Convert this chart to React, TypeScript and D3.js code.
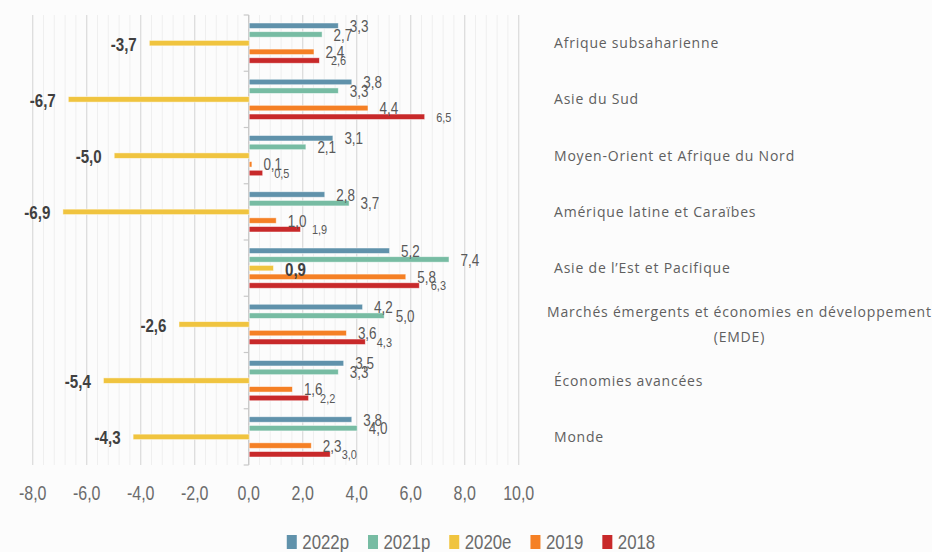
import { useEffect, useRef } from "react";
import * as d3 from "d3";

const categories = [
  "Afrique subsaharienne",
  "Asie du Sud",
  "Moyen-Orient et Afrique du Nord",
  "Amérique latine et Caraïbes",
  "Asie de l’Est et Pacifique",
  "Marchés émergents et économies en développement (EMDE)",
  "Économies avancées",
  "Monde",
];

const seriesNames = ["2022p", "2021p", "2020e", "2019", "2018"];

const values2022 = [3.3, 3.8, 3.1, 2.8, 5.2, 4.2, 3.5, 3.8];
const values2021 = [2.7, 3.3, 2.1, 3.7, 7.4, 5.0, 3.3, 4.0];
const values2020 = [-3.7, -6.7, -5.0, -6.9, 0.9, -2.6, -5.4, -4.3];
const values2019 = [2.4, 4.4, 0.1, 1.0, 5.8, 3.6, 1.6, 2.3];
const values2018 = [2.6, 6.5, 0.5, 1.9, 6.3, 4.3, 2.2, 3.0];

const xTicks = [-8, -6, -4, -2, 0, 2, 4, 6, 8, 10];

const colors = ["#6092ab", "#77bca3", "#f0c43f", "#f58025", "#c8292a"];

type Row = { cat: string; series: string; value: number };

// squeeze text horizontally (no condensed font installed)
const condense = (sel: d3.Selection<any, any, any, any>, f: number) => {
  sel.each(function (this: SVGTextElement) {
    const w = this.getComputedTextLength();
    d3.select(this).attr("textLength", w * f).attr("lengthAdjust", "spacingAndGlyphs");
  });
};

const App = () => {
  const chartRef = useRef<HTMLDivElement>(null);

  useEffect(() => {
    if (!chartRef.current) return;
    document.body.style.margin = "0";
    const width = 932;
    const height = 552;
    const margin = { top: 15, bottom: 465, left: 32.7, right: 518.7 };
    const numFont = "'Liberation Sans', Arial, sans-serif";
    const squeeze = 0.84;

    d3.select(chartRef.current).html("");
    const allValues = [values2022, values2021, values2020, values2019, values2018];
    const data: Row[] = [];
    categories.forEach((c, i) => {
      seriesNames.forEach((s, j) => data.push({ cat: c, series: s, value: allValues[j][i] }));
    });

    const svg = d3
      .select(chartRef.current)
      .append("svg")
      .attr("width", width)
      .attr("height", height)
      .style("display", "block");

    svg.append("rect").attr("width", width).attr("height", height).attr("fill", "#fcfcfc");

    const xScale = d3.scaleLinear().domain([-8, 10]).range([margin.left, margin.right]);
    const yScale = d3.scaleBand<string>().domain(categories).range([margin.top, margin.bottom]);
    const inner = d3
      .scaleBand<string>()
      .domain(seriesNames)
      .range([0, yScale.bandwidth()])
      .paddingInner(0.37)
      .paddingOuter(0.92);
    const color = d3.scaleOrdinal<string, string>().domain(seriesNames).range(colors);

    // minor grid
    svg
      .append("g")
      .selectAll("line")
      .data(d3.range(-8, 10.001, 0.4))
      .join("line")
      .attr("x1", (d) => xScale(d))
      .attr("x2", (d) => xScale(d))
      .attr("y1", margin.top)
      .attr("y2", margin.bottom)
      .attr("stroke", "#efefef")
      .attr("stroke-width", 1);

    // major grid
    svg
      .append("g")
      .selectAll("line")
      .data(xTicks)
      .join("line")
      .attr("x1", (d) => xScale(d))
      .attr("x2", (d) => xScale(d))
      .attr("y1", margin.top)
      .attr("y2", margin.bottom)
      .attr("stroke", "#dcdcdc")
      .attr("stroke-width", 1.2);

    // x tick labels
    const tickText = svg
      .append("g")
      .selectAll("text")
      .data(xTicks)
      .join("text")
      .attr("x", (d) => xScale(d))
      .attr("y", 500)
      .attr("text-anchor", "middle")
      .style("font-family", numFont)
      .style("font-size", "20px")
      .style("fill", "#6b6b6b")
      .text((d) => d.toFixed(1).replace(".", ","));
    condense(tickText, 0.8);

    // zero axis with ticks
    const x0 = xScale(0);
    svg
      .append("line")
      .attr("x1", x0)
      .attr("x2", x0)
      .attr("y1", margin.top)
      .attr("y2", margin.bottom)
      .attr("stroke", "#c8c8c8")
      .attr("stroke-width", 1.2);
    svg
      .append("g")
      .selectAll("line")
      .data(d3.range(categories.length + 1))
      .join("line")
      .attr("x1", x0 - 5)
      .attr("x2", x0)
      .attr("y1", (i) => margin.top + i * yScale.step())
      .attr("y2", (i) => margin.top + i * yScale.step())
      .attr("stroke", "#c8c8c8")
      .attr("stroke-width", 1.2);

    // bars
    svg
      .append("g")
      .selectAll("rect")
      .data(data)
      .join("rect")
      .attr("x", (d) => Math.min(xScale(d.value), x0) + 0.5)
      .attr("width", (d) => Math.abs(xScale(d.value) - x0))
      .attr("y", (d) => (yScale(d.cat) as number) + (inner(d.series) as number))
      .attr("height", inner.bandwidth())
      .attr("fill", (d) => color(d.series))
      .attr("stroke", "#ffffff")
      .attr("stroke-opacity", 0.6)
      .attr("stroke-width", 0.8);

    // value labels
    const valText = svg
      .append("g")
      .selectAll("text")
      .data(data)
      .join("text")
      .attr("x", (d) => xScale(d.value) + (d.value < 0 ? -12 : 12))
      .attr("y", (d) => (yScale(d.cat) as number) + (inner(d.series) as number) + inner.bandwidth() / 2)
      .attr("dy", (d) => (d.series === "2020e" ? "0.42em" : "0.38em"))
      .attr("text-anchor", (d) => (d.value < 0 ? "end" : "start"))
      .style("font-family", numFont)
      .style("font-size", (d) => (d.series === "2020e" ? "18px" : d.series === "2018" ? "13px" : "16px"))
      .style("font-weight", (d) => (d.series === "2020e" ? "bold" : "normal"))
      .style("fill", (d) => (d.series === "2020e" ? "#404040" : "#595959"))
      .text((d) => d.value.toFixed(1).replace(".", ","));
    condense(valText, squeeze);

    // category labels
    const catFont = "'Open Sans', 'Noto Sans', sans-serif";
    categories.forEach((c) => {
      const cy = (yScale(c) as number) + yScale.bandwidth() / 2;
      const lines = c.includes(" (") ? [c.slice(0, c.indexOf(" (")), c.slice(c.indexOf(" (") + 1)] : [c];
      const t = svg
        .append("text")
        .style("font-family", catFont)
        .style("font-size", "14px")
        .style("letter-spacing", "0.8px")
        .style("fill", "#5f5f5f");
      if (lines.length === 1) {
        t.attr("x", 554).attr("y", cy).attr("dy", "0.35em").text(c);
      } else {
        const lh = 25;
        lines.forEach((l, k) => {
          t.append("tspan")
            .attr("y", cy + (k - (lines.length - 1) / 2) * lh)
            .attr("dy", "0.35em")
            .text(l);
        });
        const spans = t.selectAll<SVGTSpanElement, unknown>("tspan");
        const w = d3.max(spans.nodes(), (n) => n.getComputedTextLength()) ?? 0;
        spans.attr("x", 547 + w / 2).attr("text-anchor", "middle");
      }
    });

    // legend
    const legend = svg.append("g");
    let lx = 0;
    seriesNames.forEach((s) => {
      const g = legend.append("g").attr("transform", `translate(${lx},0)`);
      g.append("rect").attr("x", 0).attr("y", -14).attr("width", 10).attr("height", 14).attr("fill", color(s));
      const txt = g
        .append("text")
        .attr("x", 15.5)
        .attr("y", 0)
        .style("font-family", numFont)
        .style("font-size", "20px")
        .style("fill", "#6b6b6b")
        .text(s);
      const w = (txt.node() as SVGTextElement).getComputedTextLength() * squeeze;
      condense(txt, squeeze);
      lx += 15.5 + w + 19;
    });
    const totalW = lx - 19;
    legend.attr("transform", `translate(${471 - totalW / 2},549)`);
  }, []);

  return <div ref={chartRef} className="bar-chart"></div>;
};

export default App;
